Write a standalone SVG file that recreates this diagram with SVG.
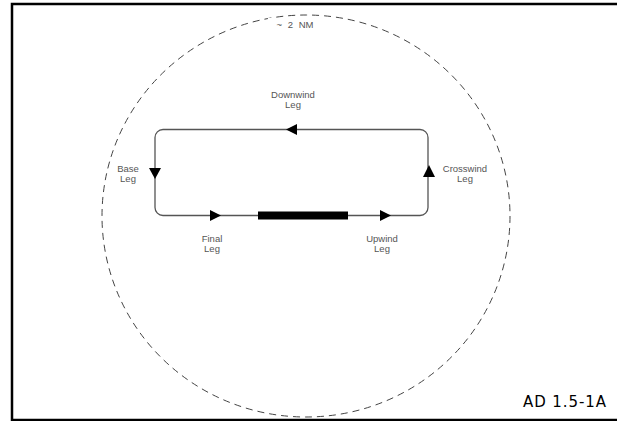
<svg xmlns="http://www.w3.org/2000/svg" width="617" height="421" viewBox="0 0 617 421">
<style>
.lbl{font-family:"Liberation Sans",Arial,sans-serif;font-size:9.5px;fill:#555;text-anchor:middle}
.ref{font-family:"DejaVu Sans",Verdana,sans-serif;font-size:15px;fill:#000}
.path{fill:none;stroke:#555;stroke-width:1.3}
.arr{fill:#000}
</style>
<rect x="0" y="0" width="617" height="421" fill="#fff"/>
<g id="frame">
<path d="M12,421 V4 H617" fill="none" stroke="#000" stroke-width="2.5"/>
<path d="M12,420 H617" fill="none" stroke="#000" stroke-width="2.5"/>
</g>
<g id="circle">
<ellipse cx="306" cy="216" rx="204" ry="201" fill="none" stroke="#444" stroke-width="1" stroke-dasharray="7,5"/>
<rect x="268" y="18" width="56" height="12" fill="#fff"/>
<text class="lbl" x="295" y="28" style="word-spacing:3px">~ 2 NM</text>
</g>
<g id="connectors">
<rect class="path" x="155" y="129.5" width="273" height="86" rx="8" ry="8"/>
<polygon class="arr" points="286,129.5 297,124 297,135"/>
<polygon class="arr" points="155,179 149,168 161,168"/>
<polygon class="arr" points="429,165 423,177 435,177"/>
<polygon class="arr" points="221,215.5 210,210 210,221"/>
<polygon class="arr" points="391,215.5 380,210 380,221"/>
</g>
<g id="runway"><rect x="258" y="211.5" width="90" height="8" fill="#000"/></g>
<g id="downwind"><text class="lbl" x="293" y="98">Downwind</text><text class="lbl" x="293" y="108">Leg</text></g>
<g id="base"><text class="lbl" x="128" y="172">Base</text><text class="lbl" x="128" y="182">Leg</text></g>
<g id="crosswind"><text class="lbl" x="465" y="172">Crosswind</text><text class="lbl" x="465" y="182">Leg</text></g>
<g id="final"><text class="lbl" x="212" y="242">Final</text><text class="lbl" x="212" y="252">Leg</text></g>
<g id="upwind"><text class="lbl" x="382" y="242">Upwind</text><text class="lbl" x="382" y="252">Leg</text></g>
<text class="ref" x="523" y="407" textLength="83" lengthAdjust="spacing">AD 1.5-1A</text>
</svg>
